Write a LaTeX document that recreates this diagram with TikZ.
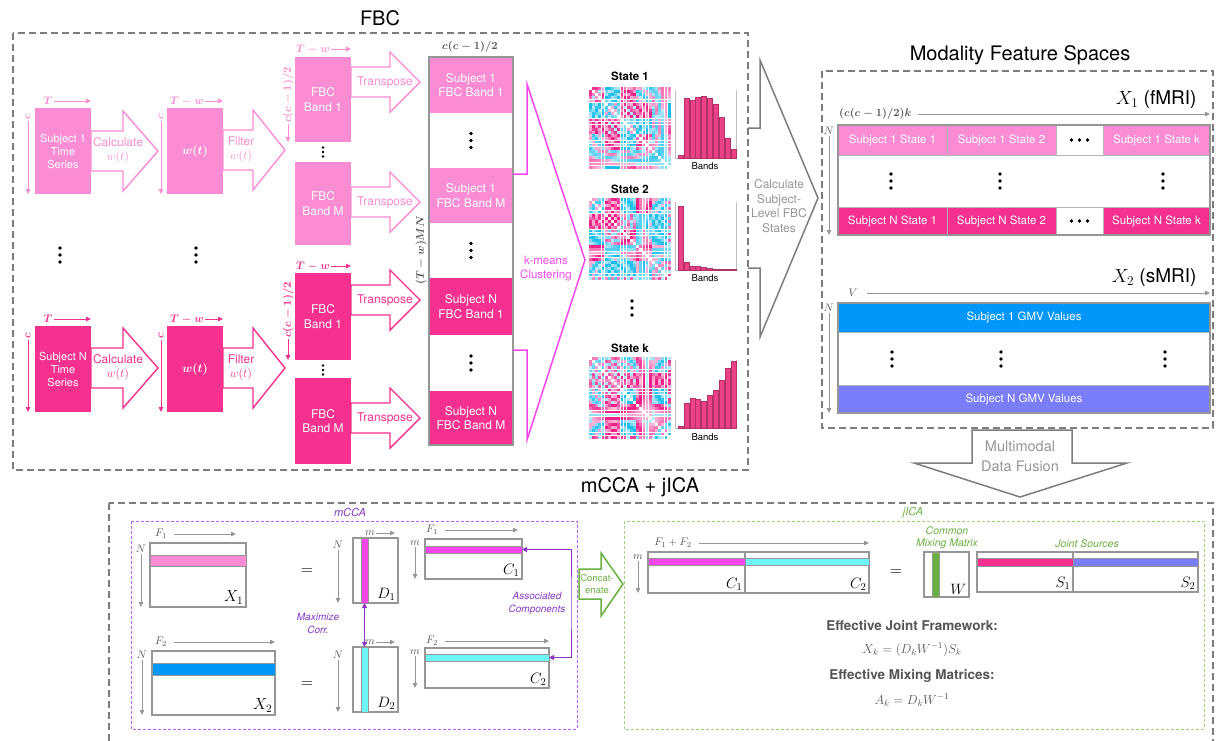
\RequirePackage{fix-cm}
\documentclass[tikz,border=0pt]{standalone}
\usepackage{amsmath}
\usepackage{fontspec}
\setmainfont{TeX Gyre Heros}
\usetikzlibrary{arrows.meta,positioning}

\definecolor{lpink}{RGB}{250,140,212}
\definecolor{dpink}{RGB}{245,48,142}
\definecolor{kmag}{RGB}{250,70,240}
\definecolor{hmpink}{RGB}{238,30,135}
\definecolor{hmcyan}{RGB}{30,190,235}
\definecolor{barpink}{RGB}{235,65,135}
\definecolor{sblue}{RGB}{0,150,250}
\definecolor{sviolet}{RGB}{122,125,250}
\definecolor{ccyan}{RGB}{110,245,245}
\definecolor{cmag}{RGB}{245,70,235}
\definecolor{mccapurple}{RGB}{135,55,195}
\definecolor{mccaline}{RGB}{195,95,245}
\definecolor{jicagreen}{RGB}{105,175,65}
\definecolor{jicaline}{RGB}{160,210,125}
\definecolor{gframe}{RGB}{125,125,125}
\definecolor{gmat}{RGB}{150,150,150}
\definecolor{gtext}{RGB}{85,85,85}

% block arrow: style, x start, x head, x tip, y centre, half shaft, half head
\newcommand{\fatarrow}[7]{%
  \draw[#1] (#2,#5-#6) -- (#3,#5-#6) -- (#3,#5-#7) -- (#4,#5) -- (#3,#5+#7) -- (#3,#5+#6) -- (#2,#5+#6) -- cycle;}

% connectivity map of a state: x, y, seed (seed below 20)
\newcommand{\heatmap}[3]{%
  \foreach \i in {0,...,25}{%
    \foreach \j in {0,...,25}{%
      \pgfmathsetmacro{\hv}{0.6*sin(#3*(int(\i/5)+1)*(int(\j/5)+1)*11)+0.5*sin(#3*(\i+1)*(\j+1)+37*(\i+\j))}%
      \pgfmathsetmacro{\hp}{int(min(100,30+abs(\hv)*75))}%
      \ifdim\hv pt>0pt \def\hc{hmpink}\else\def\hc{hmcyan}\fi
      \ifnum\i=\j \def\hp{0}\fi
      \fill[\hc!\hp!white] (#1+\i*3.15,#2+\j*3.15) rectangle ++(2.75,2.75);
    }%
  }%
}

% band histogram of a state: bottom y, bar heights
\newcommand{\bandbars}[2]{%
  \draw[gmat!60, line width=0.6pt] (675,#1-68) -- (675,#1) -- (736,#1) -- (736,#1-68);
  \foreach \h [count=\n] in {#2}
    \fill[barpink, draw=barpink!75!black, line width=0.3pt] (672+\n*5.9,#1) rectangle ++(5,-\h);
}

\tikzset{
  sec/.style={draw=gframe, line width=1.2pt, dash pattern=on 7pt off 4pt},
  sectitle/.style={font=\fontsize{20}{24}\selectfont},
  subbox/.style={minimum width=56pt, inner sep=0pt, outer sep=0pt, text=white, align=center, font=\fontsize{12}{14.5}\selectfont},
  colseg/.style={minimum width=84pt, inner sep=0pt, outer sep=0pt, text=white, align=center, font=\fontsize{12}{14.5}\selectfont},
  cell/.style={draw=gmat!70, line width=0.8pt, minimum height=30pt, inner sep=0pt, outer sep=0pt, text=white, font=\fontsize{11.5}{13}\selectfont},
  fat/.style={line width=1.4pt},
  atxt/.style={align=center, font=\fontsize{12}{14}\selectfont, inner sep=0pt},
  plbl/.style={font=\fontsize{11}{13}\selectfont, inner sep=1pt},
  gtxt/.style={text=gtext, font=\fontsize{11}{13}\selectfont, inner sep=1pt},
  axis/.style={-{Triangle[length=5pt,width=4.5pt]}, line width=0.8pt},
  mat/.style={draw=gmat, line width=1.5pt, fill=white, inner sep=0pt, outer sep=0pt, anchor=north west},
  band/.style={draw=gmat, line width=1pt, inner sep=0pt, outer sep=0pt, anchor=north west},
  mlbl/.style={anchor=south east, font=\fontsize{15}{17}\selectfont, inner sep=2.5pt},
  ptxt/.style={text=mccapurple, align=center, font=\itshape\fontsize{10}{13}\selectfont},
  gntxt/.style={text=jicagreen, align=center, font=\itshape\fontsize{10.5}{12}\selectfont},
  pairarrow/.style={{Triangle[length=5pt,width=5pt]}-{Triangle[length=5pt,width=5pt]}, mccapurple, line width=1pt},
  bigdots/.pic={\fill (0,-7) circle (1.9pt) (0,0) circle (1.9pt) (0,7) circle (1.9pt);},
  smalldots/.pic={\fill (0,-4.5) circle (1.3pt) (0,0) circle (1.3pt) (0,4.5) circle (1.3pt);},
  rowdots/.pic={\fill (-8,0) circle (1.9pt) (0,0) circle (1.9pt) (8,0) circle (1.9pt);}
}

\begin{document}
\begin{tikzpicture}[x=1pt,y=-1pt]
\useasboundingbox (0,0) rectangle (1216,740);

% Section frames
\draw[sec] (13,33) rectangle (748,470);
\draw[sec] (822,71) rectangle (1213,428);
\draw[sec] (109,503) rectangle (1213,760);
\node[sectitle] (tfbc) at (380,18) {FBC};
\node[sectitle] (tmfs) at (1020,55) {Modality Feature Spaces};
\node[sectitle] (tfuse) at (640,487) {mCCA + jICA};

% Subject 1: time series -> w(t)
\node[subbox, font=\fontsize{11}{13}\selectfont, fill=lpink, minimum height=86pt] (ts1) at (63,151) {Subject 1\\Time\\Series};
\node[plbl, text=lpink] (ts1T) at (48,101) {$\boldsymbol{T}$};
\draw[axis, lpink] (ts1T.east) -- (ts1T.east -| ts1.east);
\node[plbl, text=lpink, rotate=90] (ts1c) at (28,117) {$\boldsymbol{c}$};
\draw[axis, lpink] (ts1c.west) -- (ts1c.west |- ts1.south);
\fatarrow{fat, draw=lpink}{91}{123}{158}{151}{20}{40}
\node[atxt, text=lpink] (calc1) at (118,151) {Calculate\\$w(t)$};
\node[subbox, fill=lpink, minimum height=86pt] (wt1) at (195,151) {$\boldsymbol{w(t)}$};
\node[plbl, text=lpink] (wt1T) at (187,101) {$\boldsymbol{T-w}$};
\draw[axis, lpink] (wt1T.east) -- (wt1T.east -| wt1.east);
\node[plbl, text=lpink, rotate=90] (wt1c) at (161,117) {$\boldsymbol{c}$};
\draw[axis, lpink] (wt1c.west) -- (wt1c.west |- wt1.south);
\fatarrow{fat, draw=lpink}{223}{253}{285}{150}{20}{40}
\node[atxt, text=lpink] (filt1) at (241,150) {Filter\\$w(t)$};

\pic at (60,255) {bigdots};
\pic at (196,255) {bigdots};

% Subject N: time series -> w(t)
\node[subbox, font=\fontsize{11}{13}\selectfont, fill=dpink, minimum height=86pt] (tsN) at (63,369) {Subject N\\Time\\Series};
\node[plbl, text=dpink] (tsNT) at (48,319) {$\boldsymbol{T}$};
\draw[axis, dpink] (tsNT.east) -- (tsNT.east -| tsN.east);
\node[plbl, text=dpink, rotate=90] (tsNc) at (28,336) {$\boldsymbol{c}$};
\draw[axis, dpink] (tsNc.west) -- (tsNc.west |- tsN.south);
\fatarrow{fat, draw=dpink}{91}{123}{158}{368}{20}{40}
\node[atxt, text=dpink] (calcN) at (118,368) {Calculate\\$w(t)$};
\node[subbox, fill=dpink, minimum height=86pt] (wtN) at (195,369) {$\boldsymbol{w(t)}$};
\node[plbl, text=dpink] (wtNT) at (187,319) {$\boldsymbol{T-w}$};
\draw[axis, dpink] (wtNT.east) -- (wtNT.east -| wtN.east);
\node[plbl, text=dpink, rotate=90] (wtNc) at (161,336) {$\boldsymbol{c}$};
\draw[axis, dpink] (wtNc.west) -- (wtNc.west |- wtN.south);
\fatarrow{fat, draw=dpink}{223}{253}{285}{368}{20}{40}
\node[atxt, text=dpink] (filtN) at (241,368) {Filter\\$w(t)$};

% FBC bands
\node[subbox, fill=lpink, minimum height=85pt] (b11) at (323,99.5) {FBC\\Band 1};
\node[subbox, fill=lpink, minimum height=83pt] (b1M) at (323,203.5) {FBC\\Band M};
\node[subbox, fill=dpink, minimum height=87pt] (bN1) at (323,316.5) {FBC\\Band 1};
\node[subbox, fill=dpink, minimum height=86pt] (bNM) at (323,421) {FBC\\Band M};
\node[plbl, text=lpink] (b11T) at (313,49) {$\boldsymbol{T-w}$};
\draw[axis, lpink] (b11T.east) -- (b11T.east -| b11.east);
\node[plbl, text=lpink, rotate=90] (b11c) at (288,95) {$\boldsymbol{c(c-1)/2}$};
\draw[axis, lpink] (b11c.west) -- (b11c.west |- b11.south);
\node[plbl, text=dpink] (bN1T) at (313,266) {$\boldsymbol{T-w}$};
\draw[axis, dpink] (bN1T.east) -- (bN1T.east -| bN1.east);
\node[plbl, text=dpink, rotate=90] (bN1c) at (288,310) {$\boldsymbol{c(c-1)/2}$};
\draw[axis, dpink] (bN1c.west) -- (bN1c.west |- bN1.south);
\pic at (323,152) {smalldots};
\pic at (323,370) {smalldots};

% Transpose
\foreach \yc/\col [count=\n] in {82/lpink, 202/lpink, 300/dpink, 418/dpink}{
  \fatarrow{fat, draw=\col}{351}{390}{420}{\yc}{15}{30}
  \node[atxt, text=\col] (tr\n) at (385,\yc) {Transpose};
}

% Stacked FBC column
\node[colseg, fill=lpink, minimum height=56pt, anchor=north] (col1) at (471,57) {Subject 1\\FBC Band 1};
\node[colseg, minimum height=55pt, below=0pt of col1] (colg1) {};
\node[colseg, fill=lpink, minimum height=55pt, below=0pt of colg1] (col2) {Subject 1\\FBC Band M};
\node[colseg, minimum height=55pt, below=0pt of col2] (colg2) {};
\node[colseg, fill=dpink, minimum height=57pt, below=0pt of colg2] (col3) {Subject N\\FBC Band 1};
\node[colseg, minimum height=56pt, below=0pt of col3] (colg3) {};
\node[colseg, fill=dpink, minimum height=54pt, below=0pt of colg3] (col4) {Subject N\\FBC Band M};
\draw[gmat, line width=1.5pt] (col1.north west) rectangle (col4.south east);
\pic at (colg1) {bigdots};
\pic at (colg2) {bigdots};
\pic at (colg3) {bigdots};
\node[gtxt] (colw) at (470,47) {$\boldsymbol{c(c-1)/2}$};
\node[gtxt, rotate=90] (colh) at (421,250) {$\boldsymbol{(T-w)MN}$};

% k-means
\draw[kmag, line width=1.5pt] (513,174) -- (527,174) -- (527,84) -- (585,260) -- (527,440) -- (527,350) -- (513,350);
\node[atxt, font=\fontsize{11.5}{14}\selectfont, text=kmag] (kmeans) at (546,269) {k-means\\Clustering};

% States
\node[font=\bfseries\fontsize{11.5}{13}\selectfont] (st1) at (630,76) {State 1};
\heatmap{589}{87}{13}
\bandbars{158}{3,60,58,61,62,60,54,41,20,9}
\node[font=\fontsize{9.5}{11}\selectfont] (bd1) at (705,166) {Bands};

\node[font=\bfseries\fontsize{11.5}{13}\selectfont] (st2) at (630,189) {State 2};
\heatmap{589}{198}{19}
\bandbars{270}{64,8,4,4,3,2,1,1,0.5,0.5}
\node[font=\fontsize{9.5}{11}\selectfont] (bd2) at (705,278) {Bands};

\pic at (632,308) {bigdots};

\node[font=\bfseries\fontsize{11.5}{13}\selectfont] (stk) at (630,348) {State k};
\heatmap{589}{357}{17}
\bandbars{428}{2,25,30,29,27,33,38,48,60,67}
\node[font=\fontsize{9.5}{11}\selectfont] (bdk) at (705,437) {Bands};

% Subject-level states
\draw[gframe, line width=1.5pt] (748,128) -- (760,128) -- (760,60) -- (818,198) -- (760,337) -- (760,268) -- (748,268);
\node[atxt, text=gmat, font=\fontsize{12}{14.7}\selectfont] (subj) at (779,206) {Calculate\\Subject-\\Level FBC\\States};

% X1 (fMRI)
\node[font=\fontsize{19}{22}\selectfont, anchor=east] (x1lbl) at (1200,100) {$X_1$ (fMRI)};
\node[cell, fill=lpink, minimum width=109pt, anchor=north west] (a11) at (838,125) {Subject 1 State 1};
\node[cell, fill=lpink, minimum width=109pt, right=0pt of a11] (a12) {Subject 1 State 2};
\node[cell, minimum width=47pt, right=0pt of a12] (a1d) {};
\node[cell, fill=lpink, minimum width=107pt, right=0pt of a1d] (a1k) {Subject 1 State k};
\node[cell, fill=dpink, minimum width=109pt, minimum height=28pt, anchor=north west] (aN1) at (838,207) {Subject N State 1};
\node[cell, fill=dpink, minimum width=109pt, minimum height=28pt, right=0pt of aN1] (aN2) {Subject N State 2};
\node[cell, minimum width=47pt, minimum height=28pt, right=0pt of aN2] (aNd) {};
\node[cell, fill=dpink, minimum width=107pt, minimum height=28pt, right=0pt of aNd] (aNk) {Subject N State k};
\node[draw=gmat, line width=1.5pt, inner sep=0pt, outer sep=0pt, minimum width=372pt, minimum height=110pt, anchor=north west] (x1m) at (838,125) {};
\pic at (a1d) {rowdots};
\pic at (aNd) {rowdots};
\pic at (891,181) {bigdots};
\pic at (1000,181) {bigdots};
\pic at (1163,181) {bigdots};
\node[gtxt, anchor=west] (x1w) at (838,114) {$\boldsymbol{(c(c-1)/2)k}$};
\draw[axis, gmat] (x1w.east) ++(5pt,0) -- (x1w.east -| x1m.east);
\node[gtxt] (x1n) at (829,131) {$N$};
\draw[axis, gmat] (x1n.south) -- (x1n.south |- x1m.south);

% X2 (sMRI)
\node[font=\fontsize{19}{22}\selectfont, anchor=east] (x2lbl) at (1200,278) {$X_2$ (sMRI)};
\node[cell, fill=sblue, minimum width=372pt, minimum height=29pt, anchor=north west] (g1) at (838,303) {Subject 1 GMV Values};
\node[cell, fill=sviolet, minimum width=372pt, minimum height=28pt, anchor=north west] (gN) at (838,385) {Subject N GMV Values};
\node[draw=gmat, line width=1.5pt, inner sep=0pt, outer sep=0pt, minimum width=372pt, minimum height=110pt, anchor=north west] (x2m) at (838,303) {};
\pic at (892,359) {bigdots};
\pic at (1001,359) {bigdots};
\pic at (1165,359) {bigdots};
\node[gtxt] (x2w) at (853,293) {$V$};
\draw[axis, gmat] (x2w.east) ++(8pt,0) -- (x2w.east -| x2m.east);
\node[gtxt] (x2n) at (829,308) {$N$};
\draw[axis, gmat] (x2n.south) -- (x2n.south |- x2m.south);

% Multimodal data fusion
\draw[gframe, line width=1.5pt, fill=white] (972,430) -- (972,463) -- (914,463) -- (1020,497) -- (1127,463) -- (1072,463) -- (1072,430) -- cycle;
\node[atxt, text=gmat, font=\fontsize{14.5}{20}\selectfont] (fuse) at (1020,456) {Multimodal\\Data Fusion};

% mCCA
\draw[mccaline, line width=1pt, dash pattern=on 3pt off 2pt] (131,521) rectangle (577,729);
\node[text=mccapurple, font=\itshape\fontsize{11}{13}\selectfont] (lmcca) at (350,512) {mCCA};

\node[mat, minimum width=96pt, minimum height=64pt] (mx1) at (150,543) {};
\node[band, fill=lpink, minimum width=96pt, minimum height=11pt] (mx1r) at (150,555) {};
\node[mlbl, font=\fontsize{16}{18}\selectfont] (mx1l) at (mx1.south east) {$X_1$};
\node[gtxt] (mx1f) at (161,534) {$F_1$};
\draw[axis, gmat, shorten >=10pt] (mx1f.east) ++(6pt,0) -- (mx1f.east -| mx1.east);
\node[gtxt] (mx1n) at (141,549) {$N$};
\draw[axis, gmat] (mx1n.south) -- (mx1n.south |- mx1.south);
\node[font=\fontsize{16}{18}\selectfont] (eq1) at (307,572) {$=$};

\node[mat, minimum width=123pt, minimum height=64pt] (mx2) at (152,651) {};
\node[band, fill=sblue, minimum width=123pt, minimum height=12pt] (mx2r) at (152,663) {};
\node[mlbl, font=\fontsize{16}{18}\selectfont] (mx2l) at (mx2.south east) {$X_2$};
\node[gtxt] (mx2f) at (161,642) {$F_2$};
\draw[axis, gmat] (mx2f.east) ++(6pt,0) -- (mx2f.east -| mx2.east);
\node[gtxt] (mx2n) at (142,655) {$N$};
\draw[axis, gmat] (mx2n.south) -- (mx2n.south |- mx2.south);
\node[font=\fontsize{16}{18}\selectfont] (eq2) at (307,685) {$=$};

\node[mat, minimum width=45pt, minimum height=65pt] (md1) at (353,538) {};
\node[band, fill=cmag, minimum width=7pt, minimum height=65pt] (md1c) at (361,538) {};
\node[mlbl] (md1l) at (md1.south east) {$D_1$};
\node[gtxt] (md1m) at (370,533) {$m$};
\draw[axis, gmat, shorten >=3pt] (md1m.east) -- (md1m.east -| md1.east);
\node[gtxt] (md1n) at (338,545) {$N$};
\draw[axis, gmat] (md1n.south) -- (md1n.south |- md1.south);

\node[mat, minimum width=45pt, minimum height=65pt] (md2) at (353,647) {};
\node[band, fill=ccyan, minimum width=7pt, minimum height=65pt] (md2c) at (361,647) {};
\node[mlbl] (md2l) at (md2.south east) {$D_2$};
\node[gtxt] (md2m) at (370,642) {$m$};
\draw[axis, gmat, shorten >=3pt] (md2m.east) -- (md2m.east -| md2.east);
\node[gtxt] (md2n) at (338,655) {$N$};
\draw[axis, gmat] (md2n.south) -- (md2n.south |- md2.south);

\draw[pairarrow] (md1c.south) -- (md2c.north);
\node[ptxt] (maxc) at (318,623) {Maximize\\Corr.};

\node[mat, minimum width=97pt, minimum height=40pt] (mc1) at (425,539) {};
\node[band, fill=cmag, minimum width=97pt, minimum height=7pt] (mc1r) at (425,546) {};
\node[mlbl] (mc1l) at (mc1.south east) {$C_1$};
\node[gtxt] (mc1f) at (432,530) {$F_1$};
\draw[axis, gmat, shorten >=4pt] (mc1f.east) ++(6pt,0) -- (mc1f.east -| mc1.east);
\node[gtxt] (mc1m) at (415,543) {$m$};
\draw[axis, gmat] (mc1m.south) -- (mc1m.south |- mc1.south);

\node[mat, minimum width=124pt, minimum height=40pt] (mc2) at (425,648) {};
\node[band, fill=ccyan, minimum width=124pt, minimum height=7pt] (mc2r) at (425,654) {};
\node[mlbl] (mc2l) at (mc2.south east) {$C_2$};
\node[gtxt] (mc2f) at (432,641) {$F_2$};
\draw[axis, gmat] (mc2f.east) ++(6pt,0) -- (mc2f.east -| mc2.east);
\node[gtxt] (mc2m) at (415,652) {$m$};
\draw[axis, gmat] (mc2m.south) -- (mc2m.south |- mc2.south);

\coordinate (assoc) at (571,604);
\draw[pairarrow] (mc1r.east) -| (assoc) |- (mc2r.east);
\node[ptxt] (assocl) at (537,603) {Associated\\Components};

% Concatenate
\draw[jicagreen, line width=1.5pt, fill=white] (579,569) -- (601,569) -- (601,553) -- (623,584) -- (601,616) -- (601,599) -- (579,599) -- cycle;
\node[atxt, text=jicagreen, font=\fontsize{9.5}{12}\selectfont] (concat) at (597,584) {Concat-\\enate};

% jICA
\draw[jicaline, line width=1pt, dash pattern=on 3pt off 2pt] (624,521) rectangle (1204,729);
\node[text=jicagreen, font=\itshape\fontsize{11}{13}\selectfont] (ljica) at (913,513) {jICA};

\node[mat, minimum width=97pt, minimum height=41pt] (jc1) at (648,552) {};
\node[mat, minimum width=124pt, minimum height=41pt, right=0pt of jc1] (jc2) {};
\node[band, fill=cmag, minimum width=97pt, minimum height=7pt] (jc1r) at (648,558) {};
\node[band, fill=ccyan, minimum width=124pt, minimum height=7pt] (jc2r) at (745,558) {};
\node[mlbl] (jc1l) at (jc1.south east) {$C_1$};
\node[mlbl] (jc2l) at (jc2.south east) {$C_2$};
\node[gtxt] (jcf) at (673,543) {$F_1+F_2$};
\draw[axis, gmat] (jcf.east) ++(6pt,0) -- (jcf.east -| jc2.east);
\node[gtxt] (jcm) at (638,557) {$m$};
\draw[axis, gmat] (jcm.south) -- (jcm.south |- jc1.south);
\node[font=\fontsize{16}{18}\selectfont] (eq3) at (896,573) {$=$};

\node[mat, minimum width=45pt, minimum height=45pt] (mw) at (924,552) {};
\node[band, fill=jicagreen, minimum width=7pt, minimum height=45pt] (mwc) at (932,552) {};
\node[mlbl] (mwl) at (mw.south east) {$W$};
\node[gntxt] (mwt) at (947,538) {Common\\Mixing Matrix};

\node[mat, minimum width=96pt, minimum height=40pt] (ms1) at (977,552) {};
\node[mat, minimum width=125pt, minimum height=40pt, right=0pt of ms1] (ms2) {};
\node[band, fill=dpink, minimum width=96pt, minimum height=8pt] (ms1r) at (977,558) {};
\node[band, fill=sviolet, minimum width=125pt, minimum height=8pt] (ms2r) at (1073,558) {};
\node[mlbl] (ms1l) at (ms1.south east) {$S_1$};
\node[mlbl] (ms2l) at (ms2.south east) {$S_2$};
\node[gntxt] (jsrc) at (1087,544) {Joint Sources};

% Effective framework
\node[text=gtext, font=\bfseries\fontsize{13.5}{16}\selectfont] (efj) at (912,626) {Effective Joint Framework:};
\node[text=gtext, font=\fontsize{13}{15}\selectfont] (efjx) at (912,650) {$X_k=(D_kW^{-1})S_k$};
\node[text=gtext, font=\bfseries\fontsize{13.5}{16}\selectfont] (efm) at (912,676) {Effective Mixing Matrices:};
\node[text=gtext, font=\fontsize{13}{15}\selectfont] (efmx) at (912,700) {$A_k=D_kW^{-1}$};
\end{tikzpicture}
\end{document}
